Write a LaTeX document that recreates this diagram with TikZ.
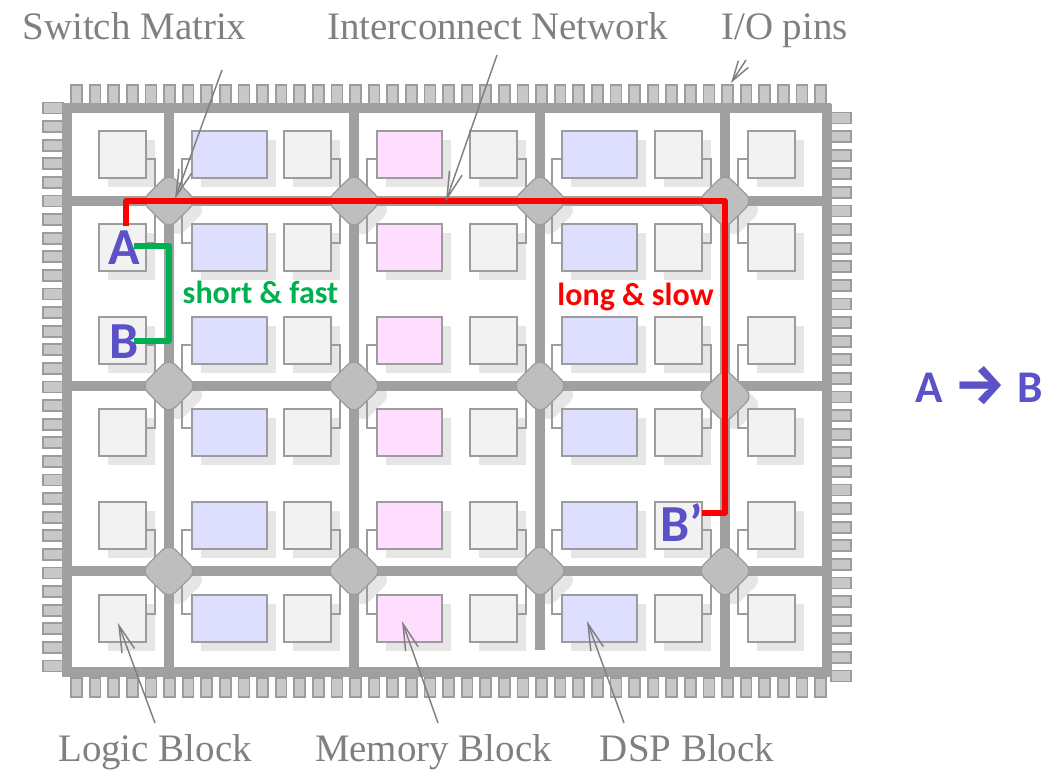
\documentclass[tikz,border=0pt]{standalone}
\usepackage{fontspec}
\setmainfont{Liberation Serif}
\newfontfamily\calfont{Carlito}
\newfontfamily\arrowfont{Fira Sans}
\usepackage{tikz}
\usetikzlibrary{positioning,arrows.meta,shapes.geometric,shadows}
\definecolor{barcol}{HTML}{A0A0A0}
\definecolor{pincol}{HTML}{C8C8C8}
\definecolor{pinline}{HTML}{9C9C9C}
\definecolor{shadecol}{HTML}{E6E6E6}
\definecolor{logiccol}{HTML}{F2F2F2}
\definecolor{dspcol}{HTML}{DEDFFF}
\definecolor{memcol}{HTML}{FFDDFF}
\definecolor{swcol}{HTML}{BEBEBE}
\definecolor{labelcol}{HTML}{808080}
\definecolor{purplecol}{HTML}{5B52C8}
\definecolor{greencol}{HTML}{00B050}

\begin{document}
\begin{tikzpicture}[
    x=0.75pt, y=-0.75pt,
    block/.style={draw=pinline, line width=1.4pt, inner sep=0pt, outer sep=0pt, minimum height=35.25pt,
        drop shadow={shadow xshift=6.75pt, shadow yshift=-6.75pt, fill=shadecol, opacity=1}},
    logicb/.style={block, fill=logiccol, minimum width=35.25pt},
    dspb/.style={block, fill=dspcol, minimum width=56.25pt},
    memb/.style={block, fill=memcol, minimum width=48.75pt},
    pintop/.style={draw=pinline, fill=pincol, line width=1.3pt, inner sep=0pt, minimum width=8.2pt, minimum height=14pt},
    pinside/.style={draw=pinline, fill=pincol, line width=1.3pt, inner sep=0pt, minimum width=14.5pt, minimum height=8.2pt},
    swbox/.style={diamond, aspect=1, draw=pinline, fill=swcol, line width=1pt, rounded corners=7pt, inner sep=0pt, minimum size=42pt},
    swshade/.style={diamond, aspect=1, fill=shadecol, rounded corners=7pt, inner sep=0pt, minimum size=42pt},
    wire/.style={draw=pinline, line width=1pt},
    bar/.style={draw=barcol, line width=6.8pt},
    callout/.style={draw=labelcol, line width=1.1pt, -{Straight Barb[length=20pt, width=10pt, line width=1.1pt]}},
    greyname/.style={text=labelcol, anchor=base, inner sep=0pt, font=\fontsize{29.2}{32}\selectfont},
    letter/.style={text=purplecol, inner sep=0pt, anchor=base, font=\calfont\bfseries\fontsize{39}{42}\selectfont},
    route/.style={line width=4.3pt, line join=round}
]
\useasboundingbox (0,0) rectangle (1063,771);

\foreach \c/\k/\x/\y in {1/1/169/201,1/2/169/386,1/3/169/571,2/1/354/201,2/2/354/386,2/3/354/571,
        3/1/540/201,3/2/540/386,3/3/540/571,4/1/725/201,4/2/725/396,4/3/725/571}{
    \coordinate (smc-\c-\k) at (\x,\y);
    \node[swshade] (smshade-\c-\k) at (\x+9,\y+9) {};
}

\foreach \i in {0,...,40}{
    \node[pintop] (toppin-\i) at ({76.5+18.6*\i},94.5) {};
    \node[pintop] (botpin-\i) at ({76.5+18.6*\i},687.5) {};
}
\foreach \i in {0,...,30}{
    \node[pinside] (leftpin-\i) at (53,{108+18.6*\i}) {};
    \node[pinside] (rightpin-\i) at (841,{118+18.6*\i}) {};
}

\foreach \x in {169,354,725}{
    \draw[bar] (\x,108) -- (\x,672);
}
\draw[bar] (540,108) -- (540,650);
\foreach \y in {201,386,571}{
    \draw[bar] (67,\y) -- (827,\y);
}
\draw[bar] (63,108) -- (831,108);
\draw[bar] (63,672) -- (831,672);
\draw[bar] (67,104) -- (67,677);
\draw[bar] (827,104) -- (827,677);

\foreach \r/\y in {1/154.5,2/247.5,3/340.5,4/432.5,5/525.5,6/618.5}{
    \foreach \c/\x/\kind in {1/122.5/logicb,2/229.5/dspb,3/307.5/logicb,4/409.5/memb,
            5/493.5/logicb,6/599.5/dspb,7/678.5/logicb,8/771.5/logicb}{
        \node[\kind] (blk-\r-\c) at (\x,\y) {};
    }
}

\foreach \r/\k/\dy in {1/1/4.5,2/1/-4.5,3/2/4.5,4/2/-4.5,5/3/4.5,6/3/-4.5}{
    \foreach \c/\s/\anch/\dx in {1/1/east/9,2/1/west/-10,3/2/east/9,4/2/west/-10,
            5/3/east/9,6/3/west/-10,7/4/east/9,8/4/west/-10}{
        \draw[wire] ([yshift=-\dy*0.75pt]blk-\r-\c.\anch) -- ++(\dx,0) |- (smc-\s-\k);
    }
}

\foreach \c/\k in {1/1,1/2,1/3,2/1,2/2,2/3,3/1,3/2,3/3,4/1,4/2,4/3}{
    \node[swbox] (sm-\c-\k) at (smc-\c-\k) {};
}

\node[greyname] (swname) at (134.5,39) {Switch Matrix};
\node[greyname] (netname) at (497.5,39) {Interconnect Network};
\node[greyname] (ioname) at (784.5,39) {I/O pins};
\node[greyname] (logicname) at (155,761) {Logic Block};
\node[greyname] (memname) at (433.5,761) {Memory Block};
\node[greyname] (dspname) at (687,761) {DSP Block};

\coordinate (swfrom) at (222,70);
\coordinate (swto) at (175,199);
\coordinate (netfrom) at (497,55);
\coordinate (netto) at (446,201);
\coordinate (iofrom) at (746,60);
\coordinate (ioto) at (731,83);
\coordinate (logicfrom) at (155,723);
\coordinate (logicto) at (118,623);
\coordinate (memfrom) at (438,723);
\coordinate (memto) at (402,621);
\coordinate (dspfrom) at (624,723);
\coordinate (dspto) at (587,621);

\coordinate (redstart) at (126,226);
\coordinate (redend) at (702,513);
\coordinate (greenstart) at (134,246);
\coordinate (greenend) at (134,341);

\draw[route, red] (redstart) -- (126,201) -- (725,201) -- (725,513) -- (redend);
\draw[route, greencol] (greenstart) -- (169,246) -- (169,341) -- (greenend);

\draw[callout] (swfrom) -- (swto);
\draw[callout] (netfrom) -- (netto);
\draw[callout, -{Straight Barb[length=15pt, width=9pt, line width=1.1pt]}] (iofrom) -- (ioto);
\draw[callout] (logicfrom) -- (logicto);
\draw[callout] (memfrom) -- (memto);
\draw[callout] (dspfrom) -- (dspto);

\node[letter] (aname) at (124,264) {A};
\node[letter] (bname) at (124,358) {B};
\node[letter] (bpname) at (682,541) {B’};

\node[text=greencol, anchor=base, inner sep=0pt, font=\calfont\bfseries\fontsize{24}{26}\selectfont] (shortname) at (260.5,303) {short \& fast};
\node[text=red, anchor=base, inner sep=0pt, font=\calfont\bfseries\fontsize{24}{26}\selectfont] (longname) at (635.5,305) {long \& slow};
\node[text=purplecol, anchor=base, inner sep=0pt, font=\calfont\bfseries\fontsize{34}{36}\selectfont] (abname) at (979.5,402) {A\hspace{1pt} {\arrowfont\bfseries\fontsize{43}{43}\selectfont\raisebox{-1.5pt}{→}} \hspace{1pt}B};
\end{tikzpicture}
\end{document}
